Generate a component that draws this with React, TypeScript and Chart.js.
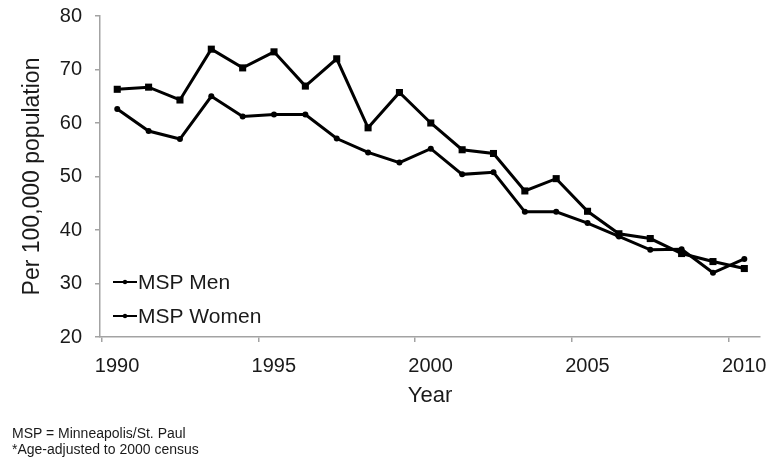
import { useEffect, useRef } from "react";
import { Chart, registerables } from "chart.js";

Chart.register(...registerables);

// Annual rates, per 100,000 population
const years = [
  1990, 1991, 1992, 1993, 1994, 1995, 1996, 1997, 1998, 1999, 2000,
  2001, 2002, 2003, 2004, 2005, 2006, 2007, 2008, 2009, 2010,
];
const mspMen = [
  66.3, 66.7, 64.3, 73.8, 70.3, 73.3, 66.9, 72.0, 59.1, 65.7, 60.0,
  55.0, 54.3, 47.3, 49.6, 43.5, 39.3, 38.4, 35.6, 34.1, 32.8,
];
const mspWomen = [
  62.6, 58.5, 57.0, 65.0, 61.2, 61.6, 61.6, 57.1, 54.5, 52.6, 55.2,
  50.4, 50.8, 43.4, 43.4, 41.3, 38.8, 36.3, 36.4, 32.0, 34.6,
];
const seriesLabels = ["MSP Men", "MSP Women"];
const yearTicks = [1990, 1995, 2000, 2005, 2010];
const footnotes = ["MSP = Minneapolis/St. Paul", "*Age-adjusted to 2000 census"];

const FONT = '"Liberation Sans", Arial, Helvetica, sans-serif';
const TEXT = "#1a1a1a";
const AXIS = "#a3a3a3";

// Each rate is plotted at the middle of its year
const toPoints = (vals: number[]) => vals.map((y, i) => ({ x: years[i] + 0.5, y }));

// Legend drawn inside the lower-left corner of the plot area
const insetLegend = {
  id: "insetLegend",
  afterDraw(chart: any) {
    const { ctx, chartArea } = chart;
    ctx.save();
    chart.data.datasets.forEach((ds: any, i: number) => {
      const y = chartArea.bottom - 55 + i * 34;
      const x0 = chartArea.left + 13;
      const x1 = chartArea.left + 37;
      ctx.strokeStyle = "#000";
      ctx.lineWidth = 2;
      ctx.beginPath();
      ctx.moveTo(x0, y);
      ctx.lineTo(x1, y);
      ctx.stroke();
      ctx.fillStyle = "#000";
      ctx.beginPath();
      ctx.arc((x0 + x1) / 2, y, 2.2, 0, Math.PI * 2);
      ctx.fill();
      ctx.font = `21px ${FONT}`;
      ctx.fillStyle = TEXT;
      ctx.textBaseline = "middle";
      ctx.textAlign = "left";
      ctx.fillText(ds.label, x1 + 1, y + 1);
    });
    ctx.restore();
  },
};

export default function App() {
  const canvasRef = useRef<HTMLCanvasElement | null>(null);

  useEffect(() => {
    if (!canvasRef.current) return;
    const chart = new Chart(canvasRef.current, {
      type: "line",
      data: {
        datasets: [
          {
            label: seriesLabels[0],
            data: toPoints(mspMen),
            borderColor: "#000",
            backgroundColor: "#000",
            borderWidth: 3,
            pointStyle: "rect",
            pointRadius: 5,
            pointBorderWidth: 0,
            tension: 0,
          },
          {
            label: seriesLabels[1],
            data: toPoints(mspWomen),
            borderColor: "#000",
            backgroundColor: "#000",
            borderWidth: 3,
            pointStyle: "circle",
            pointRadius: 3,
            pointBorderWidth: 0,
            tension: 0,
          },
        ],
      },
      options: {
        responsive: false,
        animation: false,
        events: [],
        layout: { padding: { left: 0, right: 13, top: 16, bottom: 53 } },
        plugins: {
          legend: { display: false },
          tooltip: { enabled: false },
        },
        scales: {
          x: {
            type: "linear",
            min: 1989.95,
            max: 2011,
            afterBuildTicks: (s: any) => {
              s.ticks = yearTicks.map((value) => ({ value }));
            },
            afterFit: (s: any) => {
              s.height = 72;
            },
            ticks: {
              font: { family: FONT, size: 20 },
              color: TEXT,
              padding: 12,
              labelOffset: 15.5,
              maxRotation: 0,
              autoSkip: false,
              callback: (v: any) => String(v),
            },
            grid: { drawOnChartArea: false, tickLength: 5, color: AXIS, lineWidth: 1.5 },
            border: { color: AXIS, width: 1.5 },
            title: {
              display: true,
              text: "Year",
              font: { family: FONT, size: 22 },
              color: TEXT,
              padding: { top: 0, bottom: 0 },
            },
          },
          y: {
            min: 20,
            max: 80,
            afterFit: (s: any) => {
              s.width = 100;
              s.paddingTop = 0;
              s.paddingBottom = 0;
            },
            ticks: {
              stepSize: 10,
              font: { family: FONT, size: 20 },
              color: TEXT,
              padding: 13,
            },
            grid: { drawOnChartArea: false, tickLength: 5, color: AXIS, lineWidth: 1.5 },
            border: { color: AXIS, width: 1.5 },
            title: {
              display: true,
              text: "Per 100,000 population",
              font: { family: FONT, size: 23 },
              color: TEXT,
              padding: { top: 19, bottom: 0 },
            },
          },
        },
      },
      plugins: [insetLegend],
    });
    return () => chart.destroy();
  }, []);

  return (
    <div
      style={{
        position: "fixed",
        left: 0,
        top: 0,
        width: 773,
        height: 462,
        background: "#fff",
      }}
    >
      <canvas ref={canvasRef} width={773} height={462} style={{ display: "block" }} />
      <div
        style={{
          position: "absolute",
          left: 12,
          top: 425,
          fontFamily: FONT,
          fontSize: 14,
          lineHeight: "16px",
          color: TEXT,
        }}
      >
        {footnotes.map((t) => (
          <div key={t}>{t}</div>
        ))}
      </div>
    </div>
  );
}
